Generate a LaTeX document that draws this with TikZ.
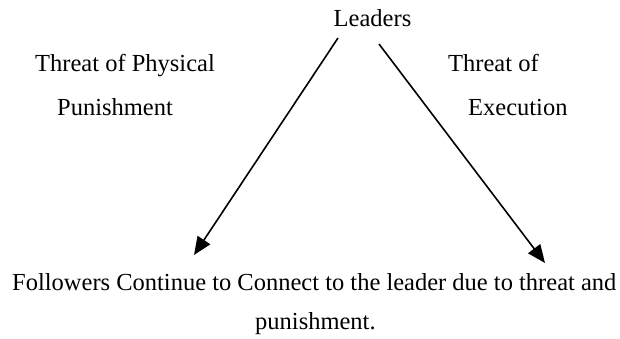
\documentclass[tikz,border=0pt]{standalone}
\usepackage{fontspec}
\setmainfont{Liberation Serif}
\usetikzlibrary{arrows.meta}
\begin{document}
\begin{tikzpicture}[x=1pt,y=-1pt,
  lbl/.style={inner sep=0pt,align=left,font=\fontsize{24.5}{44}\selectfont},
  threat/.style={line width=1.6pt,-{Triangle[length=18pt,width=15pt]}}]
\useasboundingbox (0,0) rectangle (620,338);
% top node and the two threat labels (base = baseline of the last line)
\node[lbl,anchor=base] (ldr) at (372.5,26) {Leaders};
\node[lbl,anchor=base west] (phys) at (35,115) {Threat of Physical\\\hspace*{22pt}Punishment};
\node[lbl,anchor=base west] (exec) at (448,115) {Threat of\\\hspace*{20pt}Execution};
% outcome text
\node[lbl,anchor=base west,font=\fontsize{24.5}{39}\selectfont] (fol) at (12,329)
  {Followers Continue to Connect to the leader due to threat and\\\hspace*{243pt}punishment.};
% arrow ends
\coordinate (ls) at (338,38);
\coordinate (le) at (194,255);
\coordinate (rs) at (379,44);
\coordinate (re) at (545,263);
\draw[threat] (ls) -- (le);
\draw[threat] (rs) -- (re);
\end{tikzpicture}
\end{document}
